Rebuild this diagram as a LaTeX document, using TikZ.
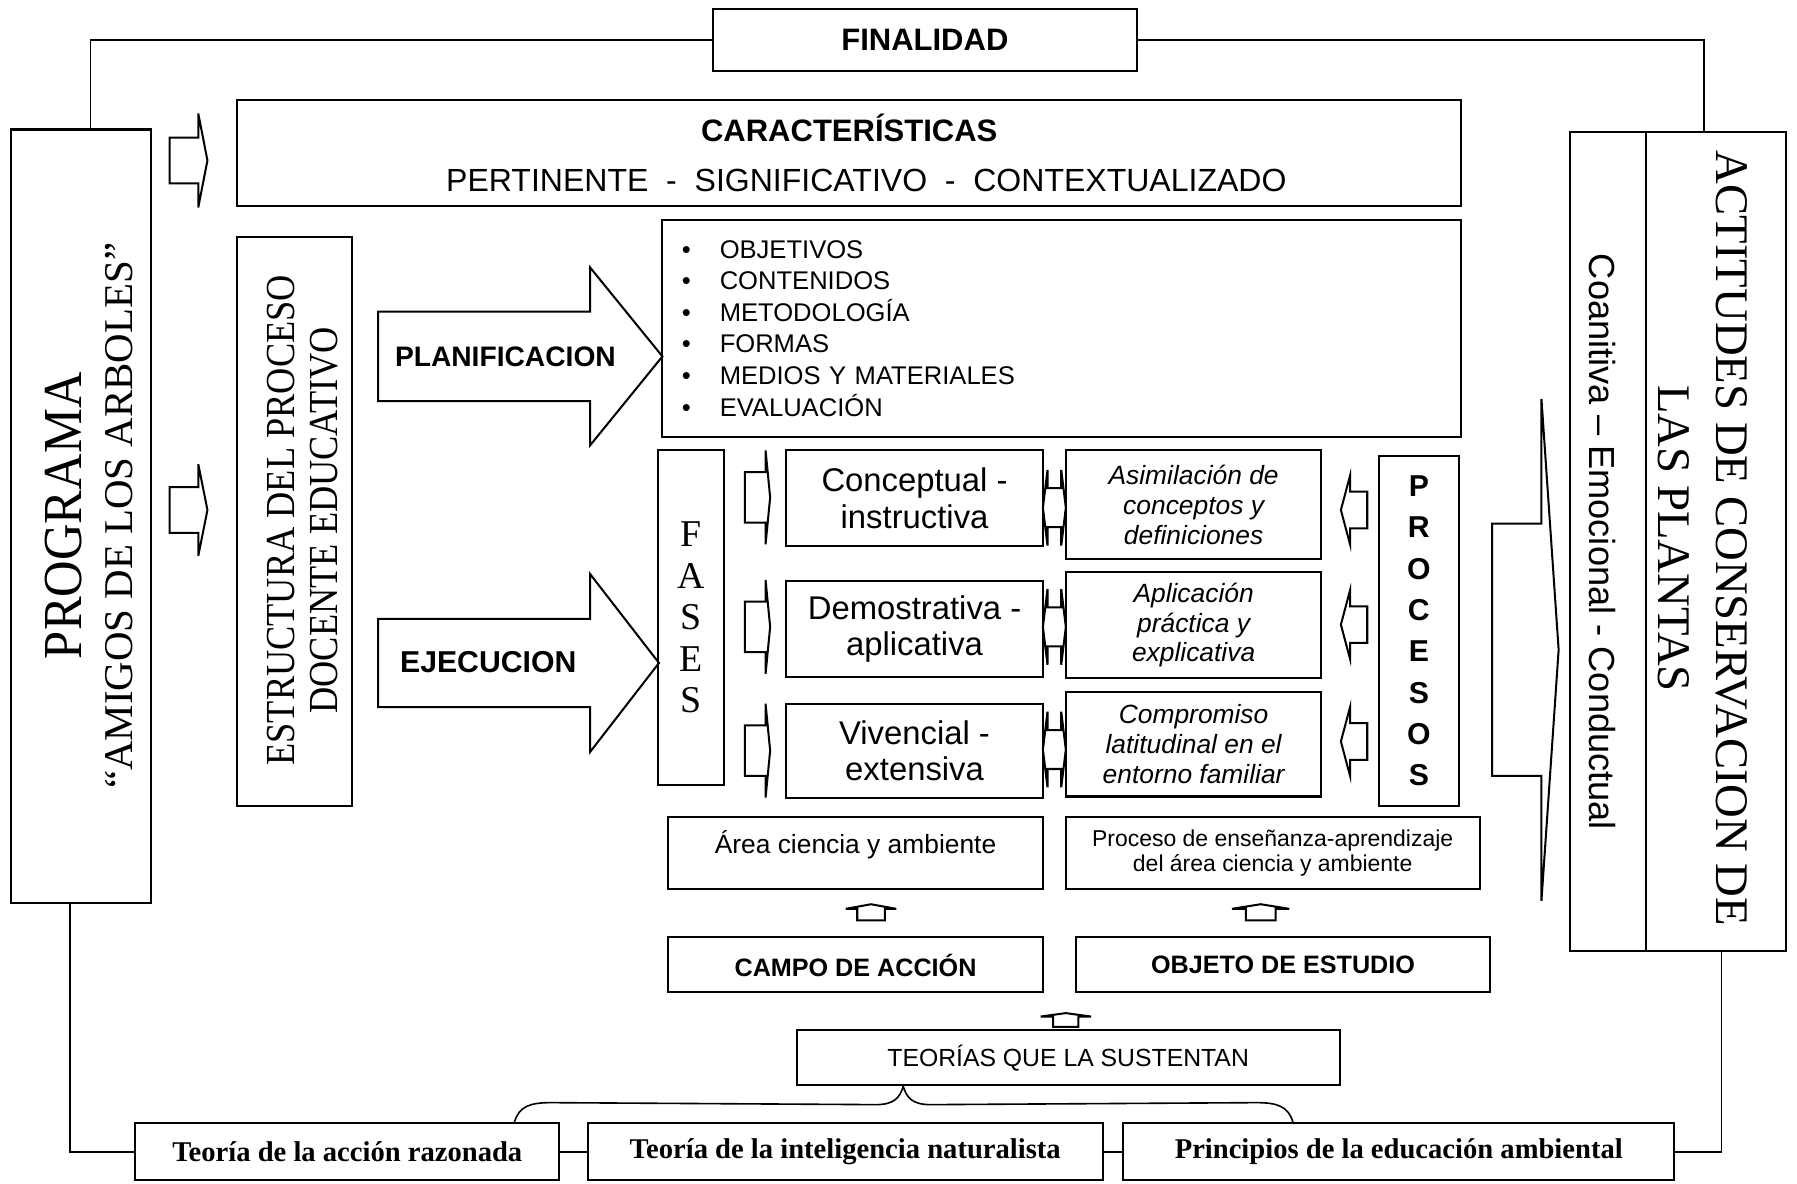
\documentclass[tikz,border=0pt]{standalone}
\usepackage{fontspec}
\setmainfont{Liberation Serif}
\setsansfont{Liberation Sans}
\usetikzlibrary{calc}

\begin{document}
\begin{tikzpicture}[x=0.02cm, y=-0.02cm, line width=1pt,
    box/.style={draw, inner sep=0pt, align=center, font=\sffamily},
    wire/.style={line width=0.8pt}]
    \def\u{0.02cm}
    \def\bul{\makebox[18.8pt][l]{\textbullet}}
    \def\harr#1#2#3#4#5#6{\draw (#1,{#4-#5}) -- (#2,{#4-#5}) -- (#2,{#4-#6}) -- (#3,#4) -- (#2,{#4+#6}) -- (#2,{#4+#5}) -- (#1,{#4+#5}) -- cycle;}
    \def\varr#1#2#3#4#5#6{\draw ({#4-#5},#1) -- ({#4-#5},#2) -- ({#4-#6},#2) -- (#4,#3) -- ({#4+#6},#2) -- ({#4+#5},#2) -- ({#4+#5},#1) -- cycle;}
    \def\darr#1{\draw (910,#1) -- (914,{#1-33}) -- (914,{#1-17}) -- (926,{#1-17}) -- (926,{#1-33}) -- (930,#1) -- (926,{#1+33}) -- (926,{#1+17}) -- (914,{#1+17}) -- (914,{#1+33}) -- cycle;}
    \useasboundingbox (0,0) rectangle (1568,1033);

    \node (fin) [box, minimum width=370*\u, minimum height=54*\u, font=\sffamily\bfseries\fontsize{15.4}{18}\selectfont] at (807,35) {FINALIDAD};
    \node (car) [box, minimum width=1068*\u, minimum height=93*\u, font=\sffamily\fontsize{15.4}{25}\selectfont] at (741,133.5) {\textbf{CARACTERÍSTICAS}\\\hspace*{17pt}{\fontsize{15.9}{25}\selectfont PERTINENTE\ \ -\ \ SIGNIFICATIVO\ \ -\ \ CONTEXTUALIZADO}};

    \node (prog) [box, minimum width=122*\u, minimum height=675*\u] at (71,450.5) {};
    \node (progtxt) [rotate=90, align=center, font=\rmfamily\fontsize{20.3}{25.6}\selectfont] at (77.5,450) {\scalebox{0.92}[1]{\fontsize{27.3}{30}\selectfont PROGRAMA}\\“AMIGOS DE LOS ARBOLES”};
    \node (est) [box, minimum width=100*\u, minimum height=496*\u] at (257,455) {};
    \node (esttxt) [rotate=90, align=center, font=\rmfamily\fontsize{20.5}{21.6}\selectfont] at (264,454) {\scalebox{0.88}[1]{ESTRUCTURA DEL PROCESO}\\\scalebox{0.88}[1]{DOCENTE EDUCATIVO}};

    \node (lista) [draw, inner xsep=17*\u, inner ysep=0pt, text width=663*\u, minimum height=189*\u, align=left, font=\sffamily\fontsize{12.7}{15.7}\selectfont] at (926.5,286.5) {\bul OBJETIVOS\\\bul CONTENIDOS\\\bul METODOLOGÍA\\\bul FORMAS\\\bul MEDIOS Y MATERIALES\\\bul EVALUACIÓN};
    \node (plan) [font=\sffamily\bfseries\fontsize{14}{16}\selectfont] at (441,311) {PLANIFICACION};
    \node (eje) [font=\sffamily\bfseries\fontsize{15}{17}\selectfont] at (426,578) {EJECUCION};
    \harr{330}{515}{578}{311}{39}{77.5}
    \harr{330}{515}{575}{578.5}{38.5}{77.5}

    \node (fases) [box, minimum width=58*\u, minimum height=292*\u, font=\rmfamily\fontsize{18.8}{20.6}\selectfont] at (603,539) {F\\A\\S\\E\\S};
    \node (f1) [box, minimum width=224*\u, minimum height=83*\u, font=\sffamily\fontsize{16.3}{18.2}\selectfont] at (798,434.5) {Conceptual -\\instructiva};
    \node (f2) [box, minimum width=224*\u, minimum height=84*\u, font=\sffamily\fontsize{16.3}{18.2}\selectfont] at (798,549) {Demostrativa -\\aplicativa};
    \node (f3) [box, minimum width=224*\u, minimum height=82*\u, font=\sffamily\fontsize{16.3}{18.2}\selectfont] at (798,655) {Vivencial -\\extensiva};
    \node (p1) [box, minimum width=223*\u, minimum height=95*\u, font=\sffamily\itshape\fontsize{13.1}{14.8}\selectfont] at (1041.5,440.5) {Asimilación de\\conceptos y\\definiciones};
    \node (p2) [box, minimum width=223*\u, minimum height=93*\u, font=\sffamily\itshape\fontsize{13.1}{14.8}\selectfont] at (1041.5,545.5) {Aplicación\\práctica y\\explicativa};
    \node (p3) [box, minimum width=223*\u, minimum height=91*\u, font=\sffamily\itshape\fontsize{13.1}{14.8}\selectfont] at (1041.5,649.5) {Compromiso\\latitudinal en el\\entorno familiar};
    \node (proc) [box, minimum width=70*\u, minimum height=305*\u, font=\sffamily\bfseries\fontsize{15}{20.5}\selectfont] at (1238,550.5) {P\\R\\O\\C\\E\\S\\O\\S};

    \harr{148}{173}{181}{140}{20}{41}
    \harr{148}{173}{181}{445}{20}{40}
    \harr{650}{668}{672}{434}{22}{41}
    \harr{650}{668}{672}{547}{22}{41}
    \harr{650}{668}{672}{655}{22}{41}
    \darr{443}
    \darr{547}
    \darr{654}
    \harr{1193}{1178}{1170}{445}{16}{30}
    \harr{1193}{1178}{1170}{545}{16}{30}
    \harr{1193}{1178}{1170}{647}{16}{30}
    \harr{1302}{1345}{1360}{567}{110}{219}

    \node (cog) [box, minimum width=66*\u, minimum height=715*\u] at (1403,472.5) {};
    \node (cogtxt) [rotate=-90, font=\sffamily\fontsize{18}{20}\selectfont] at (1398,473) {Coanitiva – Emocional - Conductual};
    \node (act) [box, minimum width=122*\u, minimum height=715*\u] at (1497,472.5) {};
    \node (acttxt) [rotate=-90, align=center, font=\rmfamily\fontsize{23.2}{29}\selectfont] at (1485.5,470) {ACTITUDES DE CONSERVACION DE\\LAS PLANTAS};

    \node (area) [box, minimum width=327*\u, minimum height=63*\u] at (746.5,744.5) {};
    \node (areatxt) [font=\sffamily\fontsize{13.1}{15}\selectfont] at (746.5,737) {Área ciencia y ambiente};
    \node (ens) [box, minimum width=361*\u, minimum height=63*\u, font=\sffamily\fontsize{11.4}{12.5}\selectfont] at (1110.5,744.5) {Proceso de enseñanza-aprendizaje\\del área ciencia y ambiente};
    \node (campo) [box, minimum width=327*\u, minimum height=48*\u, font=\sffamily\bfseries\fontsize{12.5}{14}\selectfont] at (746.5,842) {CAMPO DE ACCIÓN};
    \node (obj) [box, minimum width=361*\u, minimum height=48*\u, font=\sffamily\bfseries\fontsize{12.5}{14}\selectfont] at (1119.5,842) {OBJETO DE ESTUDIO};
    \node (teo) [box, minimum width=474*\u, minimum height=48*\u, font=\sffamily\fontsize{12.3}{14}\selectfont] at (932,923) {TEORÍAS QUE LA SUSTENTAN};
    \varr{803}{793}{789}{760}{12}{22}
    \varr{803}{793}{789}{1100}{13}{25}
    \varr{896}{887}{884}{930}{11}{22}

    \node (t1) [box, minimum width=370*\u, minimum height=50*\u, font=\rmfamily\bfseries\fontsize{14.2}{16}\selectfont] at (303,1005) {Teoría de la acción razonada};
    \node (t2) [box, minimum width=449*\u, minimum height=50*\u, font=\rmfamily\bfseries\fontsize{14.2}{16}\selectfont] at (737.5,1005) {Teoría de la inteligencia naturalista};
    \node (t3) [box, minimum width=481*\u, minimum height=50*\u, font=\rmfamily\bfseries\fontsize{14.2}{16}\selectfont] at (1220.5,1005) {Principios de la educación ambiental};

    \draw[wire] (fin.west) -| ($(prog.north)+(8,0)$);
    \draw[wire] (fin.east) -| ($(act.north)+(-10,0)$);
    \draw[wire] ($(prog.south)+(-10,0)$) |- (t1.west);
    \draw[wire] (t1) -- (t2);
    \draw[wire] (t2) -- (t3);
    \draw[wire] (t3.east) -| ($(act.south)+(5,0)$);

    \coordinate (bl) at ($(t1.north east)+(-40,0)$);
    \coordinate (br) at ($(t3.north west)+(149,0)$);
    \coordinate (bp) at ($(teo.south west)+(94,0)$);
    \draw[wire] (bl) .. controls ($(bl)+(4,-14)$) and ($(bl)+(14,-17)$) .. ($(bl)+(32,-17)$) -- ($(bp)+(-24,16)$) .. controls ($(bp)+(-8,16)$) and ($(bp)+(-3,10)$) .. (bp) .. controls ($(bp)+(3,10)$) and ($(bp)+(8,16)$) .. ($(bp)+(24,16)$) -- ($(br)+(-32,-17)$) .. controls ($(br)+(-14,-17)$) and ($(br)+(-4,-14)$) .. (br);
\end{tikzpicture}
\end{document}
